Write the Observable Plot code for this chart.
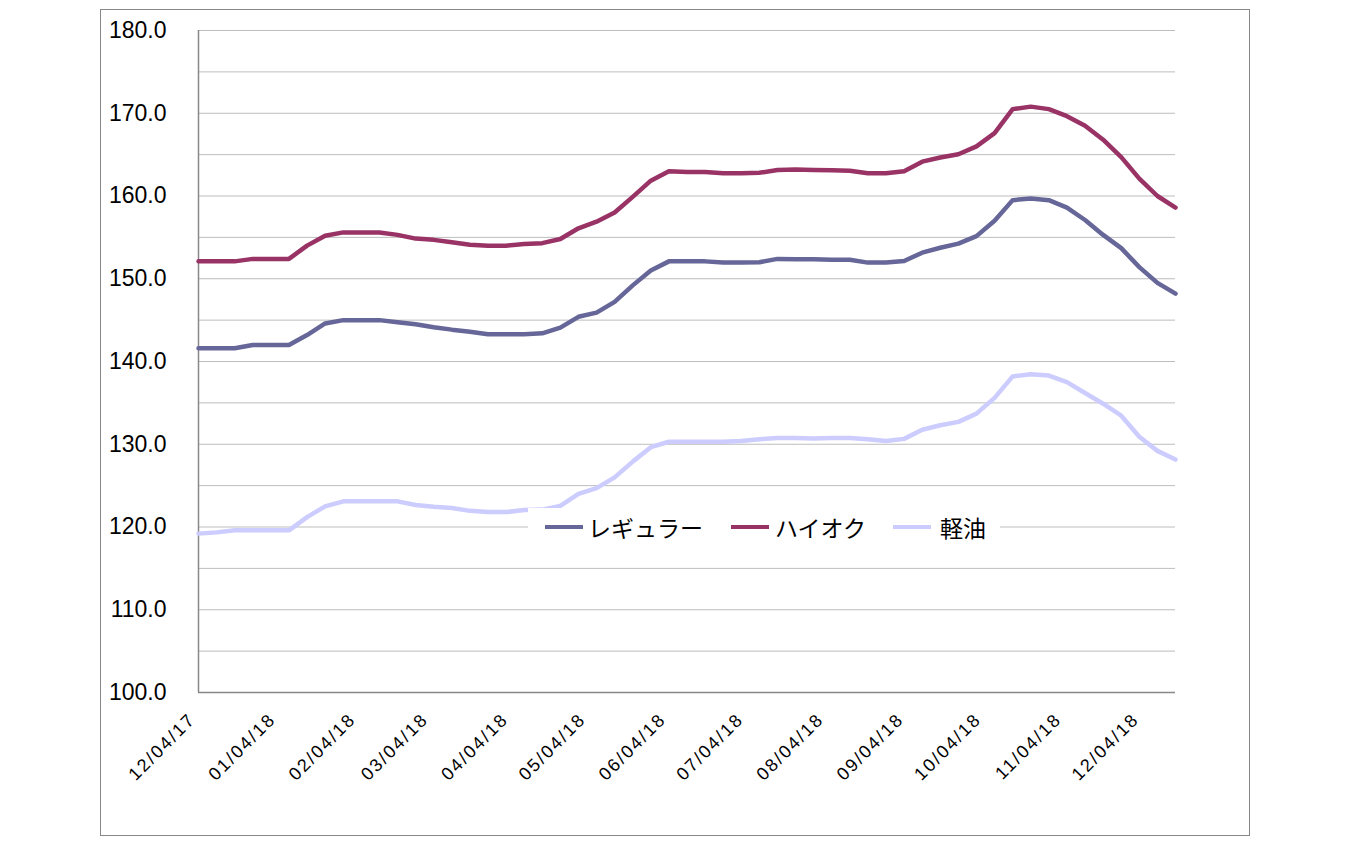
<!DOCTYPE html>
<html>
<head>
<meta charset="utf-8">
<script src="https://cdn.jsdelivr.net/npm/d3@7"></script>
<script src="https://cdn.jsdelivr.net/npm/@observablehq/plot@0.6"></script>
<style>
  body { margin: 0; background: #fff; }
  #wrap { position: relative; width: 1350px; height: 844px; overflow: hidden; }
  #border { position: absolute; left: 100px; top: 9px; width: 1150px; height: 827px; border: 1.5px solid #888; box-sizing: border-box; pointer-events: none; }
  #chart { position: absolute; left: 0; top: 0; }
  #legend { position: absolute; left: 528px; top: 508px; width: 472px; height: 38px; background: #fff; font-family: "Noto Sans CJK JP", sans-serif; font-size: 23px; color: #000; }
  .sw { position: absolute; top: 17px; height: 4px; width: 38px; }
  .lt { position: absolute; top: 0px; line-height: 38px; white-space: nowrap; }
</style>
</head>
<body>
<div id="wrap">
  <div id="chart"></div>
  <div id="legend"></div>
  <div id="border"></div>
</div>
<script>
// ---- data ----
const dates = [
  "2017-12-04","2017-12-11","2017-12-18","2017-12-25",
  "2018-01-01","2018-01-08","2018-01-15","2018-01-22","2018-01-29",
  "2018-02-05","2018-02-12","2018-02-19","2018-02-26",
  "2018-03-05","2018-03-12","2018-03-19","2018-03-26",
  "2018-04-02","2018-04-09","2018-04-16","2018-04-23","2018-04-30",
  "2018-05-07","2018-05-14","2018-05-21","2018-05-28",
  "2018-06-04","2018-06-11","2018-06-18","2018-06-25",
  "2018-07-02","2018-07-09","2018-07-16","2018-07-23","2018-07-30",
  "2018-08-06","2018-08-13","2018-08-20","2018-08-27",
  "2018-09-03","2018-09-10","2018-09-17","2018-09-24",
  "2018-10-01","2018-10-08","2018-10-15","2018-10-22","2018-10-29",
  "2018-11-05","2018-11-12","2018-11-19","2018-11-26",
  "2018-12-03","2018-12-10","2018-12-17"
];
const regular = [
  141.6,141.6,141.6,142.0,142.0,142.0,143.2,144.6,145.0,145.0,
  145.0,144.75,144.5,144.15,143.85,143.6,143.3,143.3,143.3,143.4,
  144.1,145.4,145.9,147.2,149.2,151.0,152.1,152.1,152.1,151.95,
  151.95,152.0,152.4,152.35,152.35,152.3,152.3,151.95,151.95,152.15,
  153.15,153.75,154.25,155.15,157.0,159.5,159.7,159.5,158.6,157.1,
  155.3,153.7,151.4,149.5,148.2
];
const highOctane = [
  152.1,152.1,152.1,152.4,152.4,152.4,154.0,155.2,155.6,155.6,
  155.6,155.3,154.85,154.7,154.4,154.1,154.0,154.0,154.2,154.3,
  154.8,156.1,156.9,158.0,159.9,161.85,163.0,162.9,162.9,162.75,
  162.75,162.8,163.15,163.2,163.15,163.1,163.05,162.75,162.75,163.0,
  164.15,164.65,165.05,166.0,167.6,170.5,170.8,170.5,169.65,168.5,
  166.8,164.7,162.1,160.0,158.6
];
const diesel = [
  119.2,119.35,119.6,119.6,119.6,119.6,121.2,122.5,123.1,123.1,
  123.1,123.1,122.65,122.45,122.3,121.95,121.8,121.8,122.05,122.1,
  122.55,124.0,124.7,126.0,127.9,129.65,130.3,130.3,130.3,130.3,
  130.4,130.6,130.75,130.75,130.7,130.75,130.75,130.6,130.4,130.65,
  131.75,132.3,132.7,133.7,135.6,138.2,138.45,138.3,137.5,136.2,
  134.9,133.45,130.9,129.2,128.15
];
const seriesNames = ["レギュラー", "ハイオク", "軽油"];
const seriesColors = ["#666699", "#993366", "#CCCCFF"];
const xTickLabels = [
  "2017-12-04","2018-01-04","2018-02-04","2018-03-04","2018-04-04","2018-05-04",
  "2018-06-04","2018-07-04","2018-08-04","2018-09-04","2018-10-04","2018-11-04","2018-12-04"
];
const yTicks = [100, 110, 120, 130, 140, 150, 160, 170, 180];
const yGrid = [100,105,110,115,120,125,130,135,140,145,150,155,160,165,170,175,180];

// ---- build table ----
const parse = d3.utcParse("%Y-%m-%d");
const allSeries = [regular, highOctane, diesel];
const rows = [];
allSeries.forEach((vals, s) => {
  vals.forEach((v, i) => rows.push({date: parse(dates[i]), value: v, series: seriesNames[s]}));
});
const xStart = parse(dates[0]);
const xEnd = parse(dates[dates.length - 1]);
const fmt = d3.utcFormat("%m/%d/%y");

const chart = Plot.plot({
  width: 1350,
  height: 844,
  marginLeft: 198,
  marginRight: 175,
  marginTop: 30,
  marginBottom: 152,
  style: {fontFamily: "'Liberation Sans', Arial, sans-serif", background: "transparent", color: "#000"},
  x: {type: "utc", domain: [xStart, xEnd]},
  y: {domain: [100, 180]},
  color: {domain: seriesNames, range: seriesColors},
  marks: [
    Plot.gridY(yGrid, {stroke: "#bdbdbd", strokeOpacity: 1, strokeWidth: 1}),
    Plot.ruleX([xStart], {stroke: "#888", strokeWidth: 1.5}),
    Plot.ruleY([100], {stroke: "#888", strokeWidth: 1.5}),
    Plot.axisY({ticks: yTicks, tickFormat: d => d.toFixed(1), tickSize: 0, tickPadding: 32, fontSize: 23, label: null}),
    Plot.axisX({ticks: xTickLabels.map(parse), tickFormat: fmt, tickSize: 0, tickPadding: 24, tickRotate: -45, fontSize: 18, dx: -6, label: null, className: "xlab"}),
    Plot.line(rows, {x: "date", y: "value", z: "series", stroke: "series", strokeWidth: 4.5, strokeLinejoin: "round"})
  ]
});
d3.select(chart).selectAll(".xlab text").style("letter-spacing", "2px");
document.getElementById("chart").appendChild(chart);

// ---- legend (overlaid inside plot area) ----
const legend = document.getElementById("legend");
const swX = [17, 203, 365];
const txtX = [60, 247, 412];
seriesNames.forEach((n, i) => {
  const sw = document.createElement("div");
  sw.className = "sw";
  sw.style.left = swX[i] + "px";
  sw.style.background = seriesColors[i];
  legend.appendChild(sw);
  const t = document.createElement("div");
  t.className = "lt";
  t.style.left = txtX[i] + "px";
  t.textContent = n;
  legend.appendChild(t);
});
</script>
</body>
</html>
